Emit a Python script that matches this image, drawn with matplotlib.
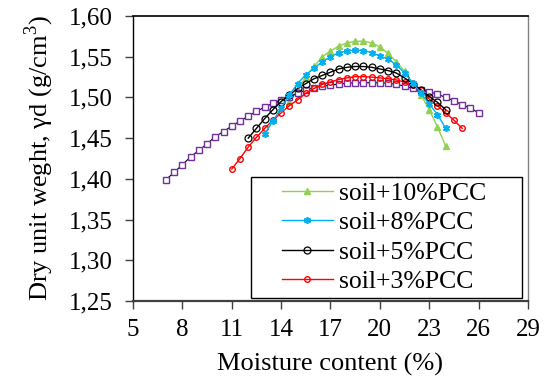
import matplotlib
matplotlib.use("Agg")
import matplotlib.pyplot as plt
import matplotlib.ticker as mticker
from matplotlib.patches import Rectangle

plt.rcParams["font.family"] = ["Liberation Serif", "DejaVu Serif"]
plt.rcParams["mathtext.fontset"] = "custom"
plt.rcParams["mathtext.rm"] = "Liberation Serif"

# ── Data ──────────────────────────────────────────────────────────────────────
w_soil = [7, 7.5, 8, 8.5, 9, 9.5, 10, 10.5, 11, 11.5, 12, 12.5, 13, 13.5, 14, 14.5,
          15, 15.5, 16, 16.5, 17, 17.5, 18, 18.5, 19, 19.5, 20, 20.5, 21, 21.5, 22,
          22.5, 23, 23.5, 24, 24.5, 25, 25.5, 26]
yd_soil = [1.399, 1.408, 1.4175, 1.427, 1.435, 1.443, 1.452, 1.458, 1.465, 1.471,
           1.477, 1.483, 1.488, 1.493, 1.497, 1.501, 1.505, 1.509, 1.512, 1.514,
           1.515, 1.5165, 1.5175, 1.518, 1.518, 1.518, 1.518, 1.5175, 1.516, 1.514,
           1.511, 1.509, 1.507, 1.504, 1.500, 1.496, 1.491, 1.487, 1.481]

w_3 = [11, 11.5, 12, 12.5, 13, 13.5, 14, 14.5, 15, 15.5, 16, 16.5, 17, 17.5, 18,
       18.5, 19, 19.5, 20, 20.5, 21, 21.5, 22, 22.5, 23, 23.5, 24, 24.5, 25]
yd_3 = [1.412, 1.425, 1.439, 1.451, 1.462, 1.472, 1.481, 1.490, 1.497, 1.505,
        1.511, 1.516, 1.519, 1.522, 1.524, 1.5255, 1.5255, 1.525, 1.524, 1.523,
        1.5215, 1.519, 1.515, 1.509, 1.498, 1.490, 1.481, 1.472, 1.462]

w_5 = [12, 12.5, 13, 13.5, 14, 14.5, 15, 15.5, 16, 16.5, 17, 17.5, 18, 18.5, 19,
       19.5, 20, 20.5, 21, 21.5, 22, 22.5, 23, 23.5, 24]
yd_5 = [1.450, 1.462, 1.474, 1.485, 1.495, 1.503, 1.511, 1.517, 1.523, 1.527,
        1.531, 1.535, 1.537, 1.538, 1.538, 1.537, 1.535, 1.533, 1.530, 1.524,
        1.517, 1.509, 1.501, 1.494, 1.485]

w_8 = [13, 13.5, 14, 14.5, 15, 15.5, 16, 16.5, 17, 17.5, 18, 18.5, 19, 19.5, 20,
       20.5, 21, 21.5, 22, 22.5, 23, 23.5, 24]
yd_8 = [1.455, 1.471, 1.487, 1.503, 1.517, 1.528, 1.536, 1.544, 1.550, 1.555,
        1.557, 1.558, 1.5575, 1.555, 1.551, 1.547, 1.540, 1.530, 1.518, 1.505,
        1.492, 1.479, 1.462]

w_10 = [14.5, 15, 15.5, 16, 16.5, 17, 17.5, 18, 18.5, 19, 19.5, 20, 20.5, 21,
        21.5, 22, 22.5, 23, 23.5, 24]
yd_10 = [1.494, 1.509, 1.525, 1.538, 1.550, 1.557, 1.563, 1.567, 1.569, 1.569,
         1.567, 1.562, 1.554, 1.544, 1.532, 1.517, 1.503, 1.485, 1.464, 1.440]

x_ticks = [5, 8, 11, 14, 17, 20, 23, 26, 29]
y_ticks = [1.25, 1.30, 1.35, 1.40, 1.45, 1.50, 1.55, 1.60]

# ── Style ─────────────────────────────────────────────────────────────────────
PURPLE = "#7030A0"
RED    = "#FF0000"
BLACK  = "#000000"
CYAN   = "#00B0F0"
GREEN  = "#92D050"

fig = plt.figure(figsize=(5.49, 3.83), dpi=100)
ax = fig.add_axes([0.2423, 0.2141, 0.7194, 0.7441])

ax.plot(w_soil, yd_soil, color=BLACK, linewidth=0.8, marker="s", markersize=5,
        markerfacecolor="white", markeredgecolor=PURPLE, markeredgewidth=1.0,
        zorder=2)
ax.plot(w_3, yd_3, color=RED, linewidth=1.0, marker="o", markersize=4,
        markerfacecolor="none", markeredgecolor=RED, markeredgewidth=1.0,
        zorder=3, label="soil+3%PCC")
ax.plot(w_5, yd_5, color=BLACK, linewidth=1.0, marker="o", markersize=5,
        markerfacecolor="none", markeredgecolor=BLACK, markeredgewidth=0.9,
        zorder=4, label="soil+5%PCC")
ax.plot(w_8, yd_8, color=CYAN, linewidth=1.0, marker=(6, 2, 0), markersize=5,
        markeredgecolor=CYAN, markeredgewidth=1.2, zorder=5, label="soil+8%PCC")
ax.plot(w_10, yd_10, color=GREEN, linewidth=1.0, marker="^", markersize=5,
        markerfacecolor=GREEN, markeredgecolor=GREEN, zorder=1,
        label="soil+10%PCC")

# ── Axes formatting ───────────────────────────────────────────────────────────
ax.set_xlim(5, 29)
ax.set_ylim(1.25, 1.60)
ax.set_xticks(x_ticks)
ax.set_yticks(y_ticks)
ax.yaxis.set_major_formatter(
    mticker.FuncFormatter(lambda v, _: f"{v:.2f}".replace(".", ",")))
ax.tick_params(direction="out", length=5.8, width=1, labelsize=18,
               colors="#404040", labelcolor="black")
ax.tick_params(axis="x", pad=7)
ax.tick_params(axis="y", pad=9)
for side, col, lw in [("left", "black", 1.0), ("top", "black", 1.2),
                      ("bottom", "#404040", 1.6), ("right", "#808080", 1.0)]:
    ax.spines[side].set_color(col)
    ax.spines[side].set_linewidth(lw)

ax.set_xlabel("Moisture content (%)", fontsize=19, labelpad=9)
ax.set_ylabel("Dry unit weght, γd (g/cm$^3$)", fontsize=19, labelpad=9)

# legend box drawn by hand so the frame matches the reference size
ax.add_patch(Rectangle((0.298, 0.0116), 0.687, 0.4225, transform=ax.transAxes,
                       facecolor="white", edgecolor="black", linewidth=1.0,
                       zorder=6))
handles, labels = ax.get_legend_handles_labels()
leg = ax.legend(handles[::-1], labels[::-1], loc="center left",
                bbox_to_anchor=(0.376, 0.223), frameon=False, fontsize=18.5,
                handlelength=2.0, handletextpad=0.25, labelspacing=0.25,
                borderpad=0, borderaxespad=0)
leg.set_zorder(7)

fig.savefig("out.png", dpi=100)
